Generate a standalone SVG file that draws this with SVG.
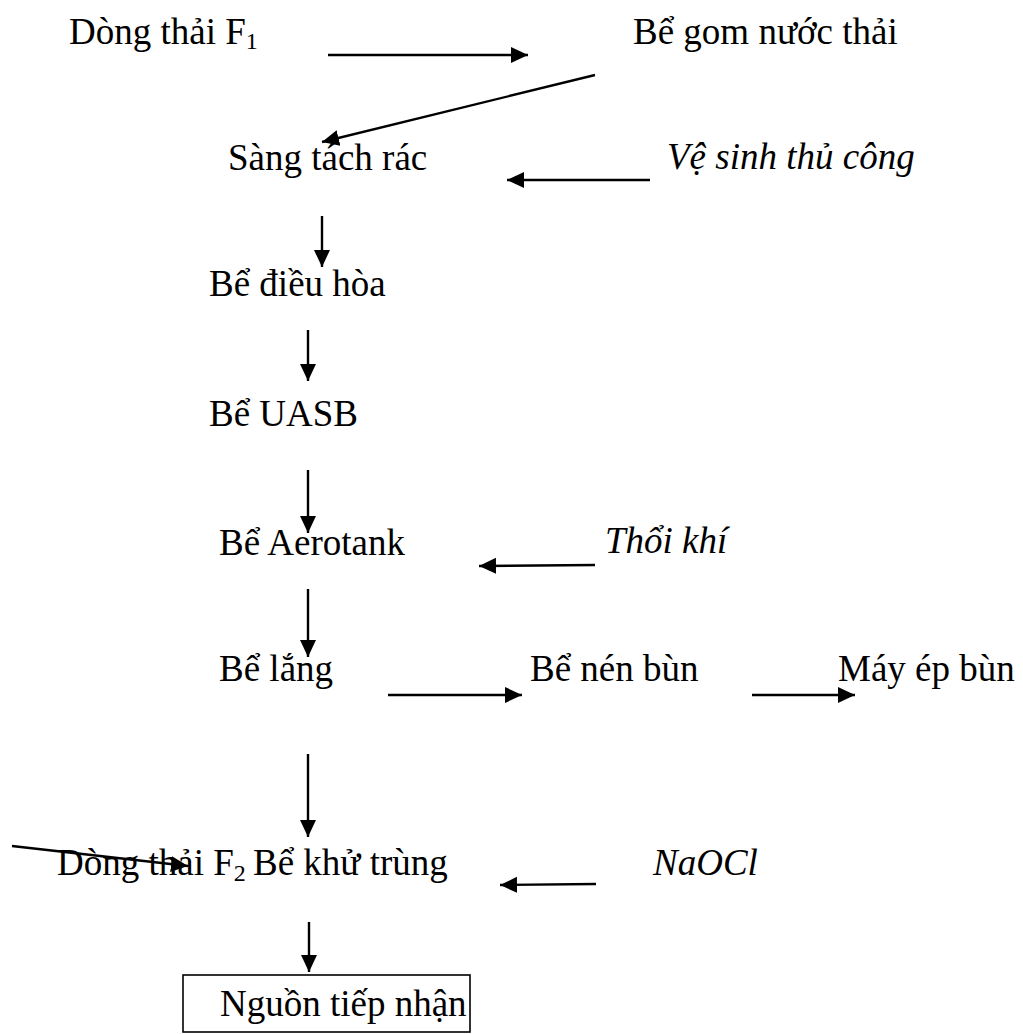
<svg xmlns="http://www.w3.org/2000/svg" width="1023" height="1034" viewBox="0 0 1023 1034">
  <style>
    text { font-family: "Liberation Serif", "Times New Roman", serif; font-size: 37px; fill: #000; }
    .it { font-style: italic; }
    .sub { font-size: 24px; }
    .conn line { stroke: #000; stroke-width: 2.4; }
    .box { fill: none; stroke: #000; stroke-width: 1.6; }
  </style>
  <defs>
    <marker id="arrow" markerUnits="userSpaceOnUse" markerWidth="18" markerHeight="18" viewBox="0 0 18 18" refX="17" refY="9" orient="auto">
      <path d="M0,1 L17,9 L0,17 z" fill="#000"/>
    </marker>
  </defs>

  <rect width="1023" height="1034" fill="#fff"/>

  <!-- process steps -->
  <g id="dong-thai-f1"><text x="69" y="44">Dòng thải F<tspan class="sub" dy="5">1</tspan></text></g>
  <g id="be-gom"><text x="633" y="44">Bể gom nước thải</text></g>
  <g id="sang-tach-rac"><text x="228" y="170">Sàng tách rác</text></g>
  <g id="ve-sinh"><text class="it" x="667" y="169">Vệ sinh thủ công</text></g>
  <g id="be-dieu-hoa"><text x="209" y="296">Bể điều hòa</text></g>
  <g id="be-uasb"><text x="209" y="426">Bể UASB</text></g>
  <g id="be-aerotank"><text x="219" y="555">Bể Aerotank</text></g>
  <g id="thoi-khi"><text class="it" x="605" y="553">Thổi khí</text></g>
  <g id="be-lang"><text x="219" y="681">Bể lắng</text></g>
  <g id="be-nen-bun"><text x="530" y="681">Bể nén bùn</text></g>
  <g id="may-ep-bun"><text x="838" y="681">Máy ép bùn</text></g>
  <g id="dong-thai-f2"><text x="57" y="875">Dòng thải F<tspan class="sub" dy="6">2</tspan></text></g>
  <g id="be-khu-trung"><text x="253" y="875">Bể khử trùng</text></g>
  <g id="naocl"><text class="it" x="653" y="875">NaOCl</text></g>
  <g id="nguon-tiep-nhan">
    <rect class="box" x="183" y="975" width="287" height="57"/>
    <text x="220" y="1016">Nguồn tiếp nhận</text>
  </g>

  <!-- connectors -->
  <g class="conn">
    <line x1="328" y1="55" x2="528" y2="55" marker-end="url(#arrow)"/>
    <line x1="595" y1="75" x2="322" y2="142" marker-end="url(#arrow)"/>
    <line x1="650" y1="180" x2="507" y2="180" marker-end="url(#arrow)"/>
    <line x1="322" y1="216" x2="322" y2="267" marker-end="url(#arrow)"/>
    <line x1="308" y1="330" x2="308" y2="381" marker-end="url(#arrow)"/>
    <line x1="308" y1="470" x2="308" y2="533" marker-end="url(#arrow)"/>
    <line x1="595" y1="565" x2="479" y2="566" marker-end="url(#arrow)"/>
    <line x1="308" y1="589" x2="308" y2="657" marker-end="url(#arrow)"/>
    <line x1="388" y1="695" x2="522" y2="695" marker-end="url(#arrow)"/>
    <line x1="752" y1="695" x2="855" y2="695" marker-end="url(#arrow)"/>
    <line x1="308" y1="754" x2="308" y2="837" marker-end="url(#arrow)"/>
    <line x1="12" y1="846" x2="188" y2="866" marker-end="url(#arrow)"/>
    <line x1="596" y1="884" x2="500" y2="885" marker-end="url(#arrow)"/>
    <line x1="309" y1="922" x2="309" y2="972" marker-end="url(#arrow)"/>
  </g>
</svg>
